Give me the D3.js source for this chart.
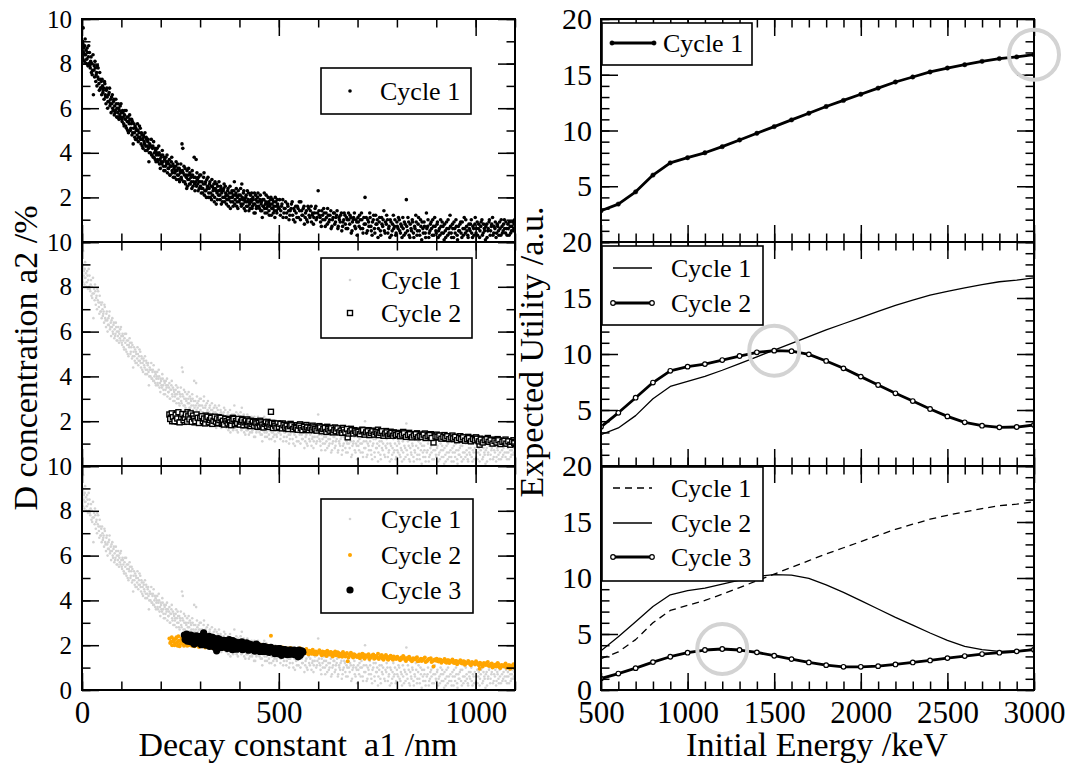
<!DOCTYPE html>
<html><head><meta charset="utf-8">
<script src="https://cdn.jsdelivr.net/npm/d3@7"></script>
<style>body{margin:0;background:#fff;} text{font-family:"Liberation Serif","Times New Roman",serif;}</style>
</head><body><svg id="chart" width="1071" height="764"></svg>
<script>
// ---------------- DATA ----------------
// Left column: scatter samples (a1 /nm, a2 /%)
const cycle1Points = [
[1,8.3],[2,8.9],[3,9.6],[4,8.5],[5,8.7],[6,8.1],[7,8.8],[9,8.4],[10,8.6],[12,8.2],[13,8.7],[15,7.9],[16,8.3],[18,8.0],[19,8.5],[21,7.8],[22,8.1],[24,7.6],[25,8.0],[27,7.7],[28,8.4],[29,6.6],[31,7.9],[32,7.4],[34,7.8],[35,7.2],[37,7.6],[38,7.0],[40,7.4],[41,7.8],[43,7.1],[44,6.8],[46,7.3],[47,6.9],[49,7.2],[50,6.6],
[52,7.0],[53,6.7],[55,6.9],[56,6.4],[58,7.1],[59,6.6],[61,6.2],[62,6.8],[64,6.5],[65,6.0],[67,6.6],[68,6.3],[70,6.9],[71,6.1],[73,6.4],[74,5.8],[76,6.2],[77,6.6],[79,5.9],[80,6.3],[82,5.7],[83,6.1],[85,5.9],[86,6.4],[88,5.6],[89,6.0],[91,5.8],[92,6.2],[94,5.5],[95,5.9],[97,6.1],[98,5.6],
[100,5.8],[102,5.4],[103,5.9],[105,5.6],[107,5.2],[108,5.7],[110,5.5],[112,5.9],[113,5.1],[115,5.4],[117,5.6],[118,4.9],[120,5.3],[122,5.5],[123,5.0],[125,5.3],[127,4.8],[128,5.4],[130,4.4],[131,5.1],[133,4.9],[135,5.2],[136,4.6],[138,5.0],[140,4.8],[141,5.3],[143,4.5],[145,4.9],[147,4.7],[148,5.1],[150,4.4],
[152,4.8],[154,4.6],[155,4.2],[157,4.7],[159,4.4],[160,4.9],[162,4.3],[164,4.6],[165,4.1],[167,4.5],[169,4.2],[170,3.6],[172,4.4],[174,4.0],[175,4.3],[177,3.9],[179,4.2],[181,3.8],[182,4.5],[184,4.0],[186,3.7],[187,4.1],[189,3.9],[191,4.2],[193,3.6],[194,3.9],[196,4.0],[198,3.7],[199,3.3],
[201,3.8],[203,3.5],[205,3.9],[206,3.6],[208,3.2],[210,3.7],[212,3.4],[213,3.8],[215,3.5],[217,3.1],[218,3.6],[220,3.3],[222,3.7],[224,3.0],[225,3.4],[227,3.6],[229,3.2],[231,3.5],[232,2.9],[234,3.3],[236,3.1],[238,3.4],[240,2.8],[241,3.2],[243,3.5],[245,3.0],[247,3.3],[248,2.7],[250,3.1],
[252,2.9],[254,4.4],[255,3.2],[256,4.2],[258,2.7],[260,3.0],[262,3.3],[263,2.6],[265,2.9],[267,3.2],[268,2.5],[270,3.0],[272,2.8],[274,3.1],[275,2.6],[277,2.9],[279,2.4],[281,3.0],[283,2.7],[285,3.8],[286,2.6],[288,2.9],[290,3.7],[291,2.5],[293,2.8],[295,2.3],[297,2.7],[299,3.0],
[301,2.5],[303,2.2],[305,2.7],[307,2.4],[309,2.9],[311,2.1],[313,2.6],[315,2.3],[317,2.8],[319,2.5],[321,2.0],[323,2.4],[325,2.7],[327,2.2],[329,1.9],[331,2.5],[333,2.3],[335,2.6],[337,2.0],[339,2.4],[341,1.7],[343,2.2],[345,2.5],[347,2.1],[349,2.3],
[351,1.9],[353,2.4],[355,2.2],[357,1.8],[359,2.3],[361,2.6],[363,2.0],[365,2.2],[367,1.7],[369,2.1],[371,2.4],[373,1.9],[375,2.2],[377,1.5],[379,2.0],[381,2.3],[383,1.8],[385,2.1],[387,2.7],[389,1.9],[391,2.2],[393,1.6],[395,2.0],[397,2.3],[399,1.8],
[402,2.1],[404,1.7],[406,2.6],[408,1.9],[410,2.2],[412,1.5],[414,1.8],[416,2.0],[418,1.6],[420,2.3],[422,1.9],[424,1.4],[426,1.7],[428,2.1],[430,1.8],[432,1.5],[434,2.0],[436,1.7],[438,2.2],[440,1.3],[442,1.9],[444,1.6],[446,2.0],[448,1.8],
[451,1.5],[453,2.1],[455,1.7],[457,1.4],[459,1.9],[461,1.6],[463,2.2],[465,1.3],[467,1.8],[469,1.5],[471,1.7],[473,2.0],[475,1.4],[477,1.6],[479,1.9],[481,1.2],[483,1.7],[485,1.5],[487,1.8],[489,1.4],[491,2.0],[493,1.6],[495,1.3],[497,1.7],[499,1.5],
[502,1.9],[505,1.4],[508,1.7],[511,1.1],[514,1.5],[517,1.8],[520,1.3],[523,1.6],[526,1.0],[529,1.4],[532,1.7],[535,1.2],[538,1.5],[541,0.9],[544,1.3],[547,1.6],[550,1.1],[553,1.4],[556,1.8],[559,1.2],[562,1.5],[565,0.8],[568,1.3],[571,1.0],[574,1.6],[577,1.2],[580,1.4],[583,0.9],[586,1.3],[589,1.1],[592,1.5],[595,1.0],[598,1.3],[600,2.3],
[603,1.2],[606,0.9],[609,1.4],[612,1.0],[615,1.3],[618,0.7],[621,1.1],[624,1.5],[627,0.9],[630,1.2],[633,0.6],[636,1.0],[639,1.3],[642,0.8],[645,1.1],[648,1.4],[651,0.7],[654,1.0],[657,1.2],[660,0.5],[663,0.9],[666,1.3],[669,0.8],[672,1.1],[675,0.6],[678,1.0],[681,1.2],[684,0.4],[687,0.9],[690,1.1],[693,0.7],[696,1.0],[699,0.3],
[702,0.9],[705,1.2],[708,0.6],[711,1.0],[714,0.4],[717,0.8],[719,2.0],[722,1.1],[725,0.5],[728,0.9],[731,1.3],[734,0.7],[737,0.3],[740,1.0],[743,0.6],[746,1.2],[749,0.8],[752,0.2],[755,0.9],[758,0.5],[761,1.1],[764,0.7],[767,1.4],[770,0.4],[773,0.8],[776,1.0],[779,0.6],[782,0.2],[785,0.9],[788,0.5],[791,1.2],[794,0.7],[797,0.3],[800,0.9],
[803,0.6],[806,1.0],[809,0.4],[812,0.7],[815,1.1],[818,0.3],[821,0.8],[824,1.9],[827,0.5],[830,0.9],[833,0.2],[836,0.6],[839,1.0],[842,0.4],[845,0.7],[848,1.2],[851,0.3],[854,0.8],[857,0.5],[860,1.0],[863,0.1],[866,0.6],[869,0.9],[872,0.4],[875,1.3],[878,0.7],[881,0.2],[884,0.5],[887,0.9],[890,0.3],[893,0.7],[896,1.1],[899,0.5],
[902,0.8],[905,0.2],[908,0.6],[911,1.0],[914,0.4],[917,0.7],[920,0.1],[923,0.5],[926,0.9],[929,0.3],[932,0.6],[935,1.2],[938,0.4],[941,0.8],[944,0.2],[947,0.6],[950,1.0],[953,0.3],[956,0.7],[959,0.5],[962,0.9],[965,0.2],[968,0.6],[971,1.1],[974,0.4],[977,0.7],[980,0.3],[983,0.8],[986,0.5],[989,1.0],[992,0.2],[995,0.6],[998,0.8],
[1001,0.4],[1004,0.9],[1007,0.6],[1010,0.2],[1013,0.7],[1016,1.0],[1019,0.4],[1022,0.6],[1025,0.1],[1028,0.8],[1031,0.5],[1034,0.9],[1037,0.3],[1040,0.7],[1043,1.1],[1046,0.4],[1049,0.6],[1052,0.2],[1055,0.8],[1058,0.5],[1061,0.9],[1064,0.3],[1067,0.7],[1070,0.5],[1073,1.0],[1076,0.4],[1079,0.6],[1082,0.8],[1085,0.3],[1088,0.7],[1091,0.5],[1094,0.9],[1097,0.6],[1099,1.0],
[0.5,8.6],[1.5,9.0],[2.5,8.2],[3.5,8.8],[6.5,8.4],[8,9.1],[11,8.0],[14,8.5],[17,8.8],[20,7.9],[23,8.3],[26,7.5],[30,7.7],[33,8.1],[36,7.5],[39,7.9],[42,7.3],[45,7.6],[48,6.9],[51,7.3],[54,6.8],[57,7.2],[60,6.5],[63,6.9],[66,6.3],[69,6.7],[72,6.2],[75,6.5],[78,6.0],[81,6.4],[84,5.8],[87,6.2],[90,5.6],[93,6.0],[96,5.7],[99,6.2],
[101,5.5],[104,5.8],[106,5.3],[109,5.9],[111,5.2],[114,5.6],[116,5.0],[119,5.4],[121,5.7],[124,5.1],[126,5.5],[129,4.9],[132,5.3],[134,4.7],[137,5.1],[139,4.6],[142,5.0],[144,4.7],[146,5.2],[149,4.6],[151,4.9],[153,4.3],[156,4.8],[158,4.5],[161,4.1],[163,4.7],[166,4.3],[168,4.6],[171,4.0],[173,4.3],[176,4.6],[178,3.9],[180,4.3],[183,3.8],[185,4.2],[188,3.6],[190,4.0],[192,3.7],[195,4.3],[197,3.5],
[200,3.9],[202,3.6],[204,4.1],[207,3.4],[209,3.8],[211,3.2],[214,3.6],[216,3.9],[219,3.3],[221,3.5],[223,3.0],[226,3.4],[228,3.8],[230,3.1],[233,3.4],[235,2.9],[237,3.2],[239,3.6],[242,3.0],[244,3.3],[246,2.8],[249,3.2],[251,3.5],[253,2.8],[257,3.1],[259,3.4],[261,2.7],[264,3.0],[266,2.4],[269,2.8],[271,3.3],[273,2.6],[276,3.0],[278,2.7],[280,3.2],[282,2.5],[284,2.9],[287,2.3],[289,2.7],[292,3.1],[294,2.6],[296,2.9],[298,2.4],
[300,2.7],[302,3.0],[304,2.4],[306,2.2],[308,2.6],[310,3.1],[312,2.3],[314,2.7],[316,2.0],[318,2.4],[320,2.9],[322,2.2],[324,2.6],[326,2.0],[328,2.5],[330,2.8],[332,2.1],[334,2.4],[336,1.8],[338,2.7],[340,2.3],[342,2.6],[344,1.9],[346,2.3],[348,2.7],[350,2.1],[352,2.5],[354,1.7],[356,2.3],[358,2.0],[360,2.4],[362,1.8],[364,2.5],[366,2.1],[368,1.9],[370,2.3],[372,1.6],[374,2.0],[376,2.5],[378,1.8],[380,2.2],[382,2.0],[384,1.6],[386,2.3],[388,1.7],[390,2.1],[392,2.4],[394,1.8],[396,1.5],[398,2.1],
[401,1.9],[403,2.4],[405,1.6],[407,2.0],[409,1.7],[411,2.3],[413,1.9],[415,1.4],[417,2.1],[419,1.8],[421,1.6],[423,2.2],[425,1.8],[427,1.5],[429,1.9],[431,2.2],[433,1.6],[435,1.9],[437,1.3],[439,1.7],[441,2.1],[443,1.5],[445,1.8],[447,2.2],[449,1.6],[452,1.9],[454,1.4],[456,1.8],[458,1.1],[460,1.6],[462,1.9],[464,1.5],[466,1.7],[468,2.1],[470,1.3],[472,1.6],[474,1.8],[476,1.2],[478,1.7],[480,2.0],[482,1.5],[484,1.9],[486,1.3],[488,1.6],[490,1.1],[492,1.8],[494,1.4],[496,1.9],[498,1.6],
[501,1.5],[504,1.2],[507,1.6],[510,1.9],[513,1.3],[516,1.5],[519,1.1],[522,1.7],[525,1.4],[528,1.2],[531,1.5],[534,1.8],[537,1.0],[540,1.4],[543,1.6],[546,1.1],[549,1.5],[552,1.8],[555,1.0],[558,1.4],[561,1.2],[564,1.6],[567,1.1],[570,1.4],[573,0.9],[576,1.5],[579,1.1],[582,1.6],[585,1.2],[588,0.8],[591,1.3],[594,1.6],[597,1.1],
[602,1.4],[605,1.1],[608,0.7],[611,1.2],[614,1.5],[617,1.0],[620,1.3],[623,0.8],[626,1.2],[629,1.0],[632,1.4],[635,0.7],[638,1.1],[641,1.3],[644,0.9],[647,1.2],[650,0.6],[653,1.1],[656,0.9],[659,1.3],[662,0.7],[665,1.0],[668,1.2],[671,0.6],[674,1.0],[677,1.3],[680,0.8],[683,1.1],[686,0.5],[689,1.0],[692,1.3],[695,0.6],[698,0.9],
[701,1.1],[704,0.7],[707,1.0],[710,1.3],[713,0.6],[716,1.1],[720,0.8],[723,0.4],[726,1.0],[729,0.7],[732,1.1],[735,0.5],[738,0.9],[741,1.2],[744,0.4],[747,0.8],[750,1.0],[753,0.6],[756,1.1],[759,0.3],[762,0.8],[765,1.0],[768,0.5],[771,0.9],[774,1.2],[777,0.4],[780,0.7],[783,1.0],[786,0.3],[789,0.8],[792,0.6],[795,1.0],[798,0.4],
[801,0.7],[804,1.1],[807,0.5],[810,0.8],[813,0.2],[816,0.6],[819,0.9],[822,0.4],[825,0.7],[828,1.1],[831,0.3],[834,0.8],[837,0.5],[840,0.9],[843,0.2],[846,0.6],[849,0.9],[852,0.5],[855,1.1],[858,0.3],[861,0.7],[864,0.9],[867,0.4],[870,0.7],[873,0.2],[876,0.6],[879,1.0],[882,0.4],[885,0.8],[888,0.6],[891,1.0],[894,0.3],[897,0.7],
[900,0.4],[903,0.9],[906,0.5],[909,0.3],[912,0.7],[915,0.9],[918,0.4],[921,0.8],[924,0.2],[927,0.6],[930,1.0],[933,0.4],[936,0.7],[939,0.2],[942,0.6],[945,0.9],[948,0.4],[951,0.7],[954,0.1],[957,0.5],[960,0.8],[963,0.4],[966,0.9],[969,0.3],[972,0.6],[975,1.0],[978,0.5],[981,0.2],[984,0.6],[987,0.8],[990,0.4],[993,0.7],[996,0.3],[999,1.1],
[1002,0.6],[1005,0.3],[1008,0.8],[1011,0.5],[1014,0.9],[1017,0.3],[1020,0.8],[1023,0.5],[1026,0.7],[1029,0.2],[1032,0.6],[1035,1.0],[1038,0.5],[1041,0.8],[1044,0.3],[1047,0.7],[1050,0.9],[1053,0.4],[1056,0.7],[1059,0.3],[1062,0.6],[1065,1.0],[1068,0.4],[1071,0.8],[1074,0.6],[1077,0.9],[1080,0.3],[1083,0.6],[1086,0.9],[1089,0.4],[1092,0.7],[1095,0.5],[1098,0.8]
];
const cycle2Points = [
[222,2.3],[226,2.15],[229,2.0],[233,2.25],[236,2.1],[240,2.35],[243,1.98],[246,2.2],[250,2.05],[253,2.3],[256,2.12],[259,1.97],[262,2.22],[265,2.08],[268,2.4],[271,2.0],[274,2.18],[277,2.28],[280,2.05],[283,2.15],[286,1.95],[289,2.25],[292,2.1],[295,2.02],[298,2.2],
[302,2.08],[305,1.97],[308,2.18],[311,2.05],[314,2.25],[317,1.93],[320,2.12],[323,2.02],[326,2.2],[329,1.95],[332,2.1],[335,2.0],[338,2.15],[341,1.9],[344,2.05],[347,2.18],[350,1.97],[353,2.08],[356,1.88],[359,2.12],[362,2.0],[365,1.93],[368,2.1],[371,1.98],[374,1.85],[377,2.07],[380,1.95],[383,2.15],[386,1.9],[389,2.02],[392,1.96],[395,1.86],[398,2.05],
[402,1.95],[405,2.1],[408,1.88],[411,2.0],[414,1.83],[417,1.97],[420,2.08],[423,1.9],[426,1.8],[429,2.02],[432,1.92],[435,1.85],[438,2.0],[441,1.88],[444,1.78],[447,1.95],[450,1.85],[453,2.02],[456,1.82],[459,1.92],[462,1.75],[465,1.9],[468,1.83],[471,1.97],[474,1.8],[477,1.88],[480,2.42],[483,1.78],[486,1.92],[489,1.84],[492,1.72],[495,1.88],[498,1.8],
[502,1.85],[506,1.72],[510,1.9],[514,1.78],[518,1.68],[522,1.85],[526,1.75],[530,1.88],[534,1.7],[538,1.8],[542,1.65],[546,1.82],[550,1.73],[554,1.86],[558,1.67],[562,1.78],[566,1.7],[570,1.83],[574,1.62],[578,1.75],[582,1.68],[586,1.8],[590,1.6],[594,1.72],[598,1.66],
[603,1.78],[607,1.62],[611,1.72],[615,1.58],[619,1.68],[623,1.75],[627,1.6],[631,1.7],[635,1.55],[639,1.65],[643,1.72],[647,1.58],[651,1.66],[655,1.52],[659,1.63],[663,1.7],[667,1.55],[671,1.6],[675,1.28],[679,1.57],[683,1.66],[687,1.5],[691,1.6],[695,1.53],[699,1.47],
[704,1.58],[708,1.5],[712,1.62],[716,1.45],[720,1.55],[724,1.48],[728,1.6],[732,1.43],[736,1.52],[740,1.58],[744,1.42],[748,1.5],[752,1.62],[756,1.45],[760,1.55],[764,1.4],[768,1.48],[772,1.56],[776,1.38],[780,1.47],[784,1.53],[788,1.4],[792,1.5],[796,1.43],
[801,1.48],[806,1.38],[811,1.45],[816,1.52],[821,1.35],[826,1.43],[831,1.48],[836,1.33],[841,1.42],[846,1.37],[851,1.46],[856,1.3],[861,1.4],[866,1.34],[871,1.45],[876,1.28],[881,1.38],[886,1.42],[891,1.3],[893,1.05],[896,1.36],
[901,1.4],[906,1.27],[911,1.35],[916,1.3],[921,1.38],[926,1.22],[931,1.33],[936,1.28],[941,1.36],[946,1.2],[951,1.3],[956,1.25],[961,1.33],[966,1.18],[971,1.27],[976,1.22],[981,1.3],[986,1.15],[991,1.25],[996,1.2],
[1001,1.28],[1006,1.15],[1010,0.95],[1011,1.22],[1016,1.1],[1021,1.2],[1026,1.12],[1031,1.25],[1036,1.08],[1041,1.18],[1046,1.05],[1051,1.14],[1056,1.2],[1061,1.02],[1066,1.12],[1071,1.06],[1076,1.18],[1081,1.0],[1086,1.1],[1091,1.04],[1096,1.15],[1099,0.98],
[224,2.1],[228,2.35],[231,2.18],[235,2.0],[238,2.28],[242,2.12],[245,2.4],[248,1.95],[252,2.18],[255,2.32],[258,2.05],[261,2.15],[264,2.3],[267,1.98],[270,2.22],[273,2.08],[276,2.35],[279,1.97],[282,2.25],[285,2.12],[288,2.0],[291,2.3],[294,2.15],[297,1.92],[300,2.15],
[304,2.22],[307,2.0],[310,2.12],[313,1.9],[316,2.08],[319,2.2],[322,1.95],[325,2.05],[328,2.15],[331,1.88],[334,2.02],[337,2.2],[340,1.98],[343,2.12],[346,1.92],[349,2.05],[352,2.15],[355,1.95],[358,2.02],[361,1.85],[364,2.1],[367,2.0],[370,1.9],[373,2.05],[376,1.95],[379,1.82],[382,2.02],[385,2.1],[388,1.88],[391,2.0],[394,1.92],[397,2.1],
[401,1.85],[404,1.98],[407,2.05],[410,1.82],[413,1.95],[416,2.02],[419,1.85],[422,1.95],[425,2.0],[428,1.78],[431,1.88],[434,1.97],[437,1.8],[440,1.95],[443,1.9],[446,1.75],[449,1.92],[452,1.8],[455,1.95],[458,1.85],[461,1.72],[464,1.88],[467,1.95],[470,1.78],[473,1.9],[476,1.75],[479,1.85],[482,1.92],[485,1.7],[488,1.88],[491,1.8],[494,1.7],[497,1.9],
[500,1.75],[504,1.88],[508,1.68],[512,1.82],[516,1.72],[520,1.8],[524,1.65],[528,1.78],[532,1.82],[536,1.65],[540,1.75],[544,1.7],[548,1.62],[552,1.8],[556,1.7],[560,1.6],[564,1.75],[568,1.65],[572,1.72],[576,1.6],[580,1.7],[584,1.62],[588,1.72],[592,1.65],[596,1.58],
[601,1.68],[605,1.72],[609,1.55],[613,1.65],[617,1.7],[621,1.52],[625,1.65],[629,1.58],[633,1.68],[637,1.5],[641,1.6],[645,1.55],[649,1.68],[653,1.5],[657,1.58],[661,1.48],[665,1.62],[669,1.5],[673,1.65],[677,1.45],[681,1.55],[685,1.6],[689,1.45],[693,1.57],[697,1.5],
[702,1.52],[706,1.42],[710,1.55],[714,1.6],[718,1.4],[722,1.5],[726,1.55],[730,1.38],[734,1.47],[738,1.55],[742,1.4],[746,1.52],[750,1.45],[754,1.38],[758,1.48],[762,1.55],[766,1.35],[770,1.45],[774,1.5],[778,1.35],[782,1.42],[786,1.48],[790,1.35],[794,1.45],[798,1.38],
[803,1.42],[808,1.33],[813,1.4],[818,1.46],[823,1.3],[828,1.38],[833,1.42],[838,1.28],[843,1.36],[848,1.42],[853,1.28],[858,1.35],[863,1.3],[868,1.4],[873,1.25],[878,1.33],[883,1.38],[888,1.25],[898,1.32],
[903,1.3],[908,1.36],[913,1.22],[918,1.3],[923,1.25],[928,1.33],[933,1.2],[938,1.27],[943,1.23],[948,1.3],[953,1.15],[958,1.25],[963,1.2],[968,1.28],[973,1.13],[978,1.2],[983,1.25],[988,1.1],[993,1.2],[998,1.15],
[1003,1.22],[1008,1.1],[1013,1.18],[1018,1.05],[1023,1.15],[1028,1.2],[1033,1.08],[1038,1.15],[1043,1.0],[1048,1.12],[1053,1.05],[1058,1.15],[1063,0.98],[1068,1.08],[1073,1.12],[1078,1.0],[1083,1.1],[1088,0.95],[1093,1.08],[1098,1.02]
];
const cycle3Points = [
[260,2.45],[262,2.25],[265,2.35],[268,2.18],[270,2.4],[273,2.28],[274,2.4],[276,2.15],[279,2.35],[282,2.22],[285,2.05],[287,2.12],[288,2.3],[291,2.18],[294,2.4],[297,2.1],[299,2.35],[300,2.25],[303,2.02],[306,2.15],[309,2.55],[311,2.08],[312,2.22],[315,2.0],[318,2.12],[321,2.3],[322,2.15],[324,1.95],[327,2.18],[330,2.08],[333,2.25],[334,2.05],[336,1.92],[339,2.1],[342,1.75],[345,2.2],[346,2.3],[348,2.0],[351,2.12],[354,1.9],[357,2.05],[358,1.98],[360,2.22],[363,1.95],[366,2.08],[369,1.85],[371,2.0],[372,2.15],[375,1.98],[378,2.05],[381,1.88],[383,2.2],[384,2.1],[387,1.95],[390,2.02],[393,1.82],[395,1.9],[396,1.98],[399,2.12],[402,1.9],[405,2.0],[407,2.1],[408,1.8],[411,1.95],[414,2.06],[417,1.85],[419,1.88],[420,1.97],[423,1.78],[426,1.92],[429,2.02],[431,1.95],[432,1.83],[435,1.9],[438,1.75],[441,1.95],[443,2.05],[444,1.85],[447,1.98],[450,1.78],[453,1.88],[455,1.85],[456,1.72],[459,1.9],[462,1.8],[465,1.93],[467,1.88],[468,1.75],[471,1.85],[474,1.7],[477,1.82],[479,1.78],[480,1.9],[483,1.72],[486,1.8],[489,1.68],[491,1.72],[492,1.85],[495,1.75],[498,1.62],[501,1.8],[503,1.85],[504,1.7],[507,1.55],[510,1.78],[513,1.68],[515,1.72],[516,1.8],[519,1.65],[522,1.75],[525,1.6],[527,1.68],[528,1.72],[531,1.78],[534,1.63],[537,1.7],[540,1.58],[543,1.72],[546,1.65],[549,1.48],[552,1.7],[555,1.6],[558,1.75],[561,1.68],
[263,2.3],[266,2.5],[269,2.2],[272,2.35],[277,2.45],[280,2.3],[283,2.4],[286,2.25],[290,2.42],[293,2.2],[296,2.3],[301,2.4],[304,2.2],[307,2.32],[310,2.15],[313,2.35],[316,2.25],[319,2.05],[323,2.4],[326,2.28],[329,2.1],[332,2.35],[335,2.15],[338,2.28],[341,2.05],[344,2.1],[347,1.88],[350,2.25],[353,2.05],[356,2.18],[359,1.92],[362,2.1],[365,2.2],[368,1.95],[370,2.12],[374,2.25],[377,1.9],[380,2.15],[382,1.8],[386,2.05],[389,2.15],[392,1.9],[394,2.08],[398,1.85],[401,2.05],[404,1.85],[406,2.15],[410,2.02],[413,1.85],[416,1.95],[418,2.1],[422,1.88],[425,2.05],[428,1.82],[430,1.98],[434,2.0],[437,1.88],[440,1.75],[442,1.9],[446,1.82],[449,1.95],[452,1.72],[454,1.92],[458,1.8],[461,1.95],[464,1.72],[466,1.82],[470,1.9],[473,1.78],[476,1.68],[478,1.88],[482,1.8],[485,1.72],[488,1.82],[490,1.62],[494,1.78],[497,1.7],[500,1.85],[502,1.62],[506,1.75],[509,1.68],[512,1.8],[514,1.62],[518,1.72],[521,1.58],[524,1.7],[526,1.78],[530,1.6],[533,1.72],[536,1.65],[539,1.78],[542,1.6],[545,1.72],[548,1.62],[551,1.78],[554,1.55],[557,1.68],[560,1.72]
];
// Right column: expected utility vs initial energy
const energies = [500,600,700,800,900,1000,1100,1200,1300,1400,1500,1600,1700,1800,1900,2000,2100,2200,2300,2400,2500,2600,2700,2800,2900,3000];
const utilCycle1 = [2.8,3.4,4.5,6.0,7.1,7.56,8.0,8.55,9.15,9.75,10.35,10.95,11.55,12.15,12.7,13.25,13.8,14.35,14.8,15.25,15.6,15.9,16.2,16.45,16.6,16.8];
const utilCycle2 = [3.5,4.75,6.1,7.45,8.5,8.87,9.1,9.46,9.82,10.15,10.3,10.25,9.97,9.38,8.72,7.98,7.23,6.49,5.8,5.09,4.43,3.9,3.6,3.45,3.48,3.66];
const utilCycle3 = [1.02,1.47,1.95,2.49,2.97,3.33,3.57,3.66,3.57,3.36,3.06,2.76,2.46,2.22,2.07,2.07,2.13,2.28,2.46,2.64,2.85,3.03,3.21,3.33,3.45,3.6];
// optimum markers (grey circles): energy and utility per cycle
const optimaEnergy = [3000,1500,1200];
const optimaUtil = [16.8,10.3,3.66];
// ticks
const leftXMajor = [0,500,1000];
const leftXMinor = [0,100,200,300,400,500,600,700,800,900,1000,1100];
const leftYLabels = [[2,4,6,8,10],[2,4,6,8,10],[0,2,4,6,8,10]];
const leftYMajor = [0,2,4,6,8,10];
const leftYMinor = [0,1,2,3,4,5,6,7,8,9,10];
const rightXMajor = [500,1000,1500,2000,2500,3000];
const rightXMinor = [500,600,700,800,900,1000,1100,1200,1300,1400,1500,1600,1700,1800,1900,2000,2100,2200,2300,2400,2500,2600,2700,2800,2900,3000];
const rightYLabels = [[5,10,15,20],[5,10,15,20],[0,5,10,15,20]];
const rightYMajor = [0,5,10,15,20];
const rightYMinor = [0,1,2,3,4,5,6,7,8,9,10,11,12,13,14,15,16,17,18,19,20];
const legendLabels = ["Cycle 1","Cycle 2","Cycle 3"];

// ---------------- DRAWING ----------------
const FONT = '"Liberation Serif","Times New Roman",serif';
const svg = d3.select("#chart");
svg.append("rect").attr("width",1071).attr("height",764).attr("fill","#fff");
const rows = [{top:19,bottom:242},{top:242,bottom:466},{top:466,bottom:690}];
const leftX = d3.scaleLinear().domain([0,1100]).range([82,515]);
const rightX = d3.scaleLinear().domain([500,3000]).range([601,1034]);
const MAJ = 17, MIN = 8.5;
const GREY = "#d3d3d3", ORANGE = "#ffa500";

function styleAxis(ag, fs){
  ag.select(".domain").remove();
  ag.selectAll("line").attr("stroke","#000").attr("stroke-width",1.5);
  ag.selectAll("text").attr("font-size",fs).attr("font-family",FONT).attr("fill","#000");
}
function drawAxes(g, x, y, xMaj, xMin, yMaj, yMin, yLab, showX, yFs, yPad){
  const [x0,x1] = x.range(); const [yb,yt] = y.range();
  const fmt = d3.format("d");
  styleAxis(g.append("g").attr("transform",`translate(0,${yb})`).call(d3.axisBottom(x).tickValues(xMin).tickSize(-MIN).tickFormat("")));
  styleAxis(g.append("g").attr("transform",`translate(0,${yb})`).call(d3.axisBottom(x).tickValues(xMaj).tickSize(-MAJ).tickPadding(11).tickFormat(showX?fmt:"")),31);
  styleAxis(g.append("g").attr("transform",`translate(0,${yt})`).call(d3.axisTop(x).tickValues(xMin).tickSize(-MIN).tickFormat("")));
  styleAxis(g.append("g").attr("transform",`translate(0,${yt})`).call(d3.axisTop(x).tickValues(xMaj).tickSize(-MAJ).tickFormat("")));
  styleAxis(g.append("g").attr("transform",`translate(${x0},0)`).call(d3.axisLeft(y).tickValues(yMin).tickSize(-MIN).tickFormat("")));
  styleAxis(g.append("g").attr("transform",`translate(${x0},0)`).call(d3.axisLeft(y).tickValues(yMaj).tickSize(-MAJ).tickFormat("")));
  styleAxis(g.append("g").attr("transform",`translate(${x0},0)`).call(d3.axisLeft(y).tickValues(yLab).tickSize(0).tickPadding(yPad).tickFormat(fmt)), yFs);
  styleAxis(g.append("g").attr("transform",`translate(${x1},0)`).call(d3.axisRight(y).tickValues(yMin).tickSize(-MIN).tickFormat("")));
  styleAxis(g.append("g").attr("transform",`translate(${x1},0)`).call(d3.axisRight(y).tickValues(yMaj).tickSize(-MAJ).tickFormat("")));
  g.append("rect").attr("x",x0).attr("y",yt).attr("width",x1-x0).attr("height",yb-yt)
    .attr("fill","none").attr("stroke","#000").attr("stroke-width",2);
}
function clip(id, x, y){
  const [x0,x1]=x.range(); const [yb,yt]=y.range();
  svg.append("clipPath").attr("id",id).append("rect").attr("x",x0).attr("y",yt).attr("width",x1-x0).attr("height",yb-yt);
}
function scatter(g, pts, x, y, kind){
  if(kind==="square"){
    g.selectAll(null).data(pts).enter().append("rect")
      .attr("x",d=>x(d[0])-2.5).attr("y",d=>y(d[1])-2.5).attr("width",5).attr("height",5)
      .attr("fill","#fff").attr("stroke","#000").attr("stroke-width",1.4);
    return;
  }
  const st = {dot:{r:1.8,c:"#000"},grey:{r:1.3,c:GREY},orange:{r:2,c:ORANGE},big:{r:3.6,c:"#000"}}[kind];
  g.selectAll(null).data(pts).enter().append("circle")
    .attr("cx",d=>x(d[0])).attr("cy",d=>y(d[1])).attr("r",st.r).attr("fill",st.c);
}
function legendBox(g, x, y, w, h){
  g.append("rect").attr("x",x).attr("y",y).attr("width",w).attr("height",h)
    .attr("fill","#fff").attr("stroke","#000").attr("stroke-width",1.6);
}
function legendText(g, x, y, t){
  g.append("text").attr("x",x).attr("y",y+8.6).attr("font-size",26).attr("font-family",FONT).text(t);
}
function scatterMarker(g, x, y, kind){ scatter(g, [[0,0]], ()=>x, ()=>y, kind); }

// ---- left column ----
const leftSets = [
  [["dot",cycle1Points]],
  [["grey",cycle1Points],["square",cycle2Points]],
  [["grey",cycle1Points],["orange",cycle2Points],["big",cycle3Points]]
];
rows.forEach((r,i)=>{
  const y = d3.scaleLinear().domain([0,10]).range([r.bottom,r.top]);
  const g = svg.append("g");
  clip("cl"+i, leftX, y);
  const dg = g.append("g").attr("clip-path",`url(#cl${i})`);
  leftSets[i].forEach(([kind,pts])=>scatter(dg, pts, leftX, y, kind));
  drawAxes(g, leftX, y, leftXMajor, leftXMinor, leftYMajor, leftYMinor, leftYLabels[i], i===2, 25, 10);
});
(function(){
  let g = svg.append("g");
  legendBox(g,321,68,150,46); scatterMarker(g,350,91,"dot"); legendText(g,380,91,legendLabels[0]);
  g = svg.append("g");
  legendBox(g,321,258,151,80); scatterMarker(g,350,280,"grey"); legendText(g,381,280,legendLabels[0]);
  scatterMarker(g,350,313,"square"); legendText(g,381,313,legendLabels[1]);
  g = svg.append("g");
  legendBox(g,321,499,152,114); scatterMarker(g,350,519,"grey"); legendText(g,381,519,legendLabels[0]);
  scatterMarker(g,350,555,"orange"); legendText(g,381,555,legendLabels[1]);
  scatterMarker(g,350,590,"big"); legendText(g,381,590,legendLabels[2]);
})();

// ---- right column ----
const styles = {
  thickDot:{w:2.8,dash:null,marker:"filled"},
  thickOpen:{w:2.8,dash:null,marker:"open"},
  thin:{w:1.3,dash:null,marker:null},
  dashed:{w:1.3,dash:"7,5",marker:null}
};
const rightSets = [
  [[utilCycle1,"thickDot"]],
  [[utilCycle1,"thin"],[utilCycle2,"thickOpen"]],
  [[utilCycle1,"dashed"],[utilCycle2,"thin"],[utilCycle3,"thickOpen"]]
];
function drawMarkers(g, pts, kind){
  g.selectAll(null).data(pts).enter().append("circle")
    .attr("cx",d=>d[0]).attr("cy",d=>d[1]).attr("r",kind==="filled"?2.2:2.3)
    .attr("fill",kind==="filled"?"#000":"#fff").attr("stroke","#000").attr("stroke-width",kind==="filled"?0.5:1.2);
}
rows.forEach((r,i)=>{
  const y = d3.scaleLinear().domain([0,20]).range([r.bottom,r.top]);
  const g = svg.append("g");
  clip("cr"+i, rightX, y);
  const dg = g.append("g").attr("clip-path",`url(#cr${i})`);
  rightSets[i].forEach(([vals,sk])=>{
    const s = styles[sk];
    const line = d3.line().x((d,j)=>rightX(energies[j])).y(d=>y(d));
    const p = dg.append("path").attr("d",line(vals)).attr("fill","none").attr("stroke","#000")
      .attr("stroke-width",s.w).attr("stroke-linejoin","round");
    if(s.dash) p.attr("stroke-dasharray",s.dash);
    if(s.marker) drawMarkers(dg, vals.map((v,j)=>[rightX(energies[j]),y(v)]), s.marker);
  });
  drawAxes(g, rightX, y, rightXMajor, rightXMinor, rightYMajor, rightYMinor, rightYLabels[i], i===2, 30, 9);
  svg.append("circle").attr("cx",rightX(optimaEnergy[i])).attr("cy",y(optimaUtil[i])).attr("r",25)
    .attr("fill","none").attr("stroke",GREY).attr("stroke-width",4);
});
function lineSample(g, x0, x1, yy, sk){
  const s = styles[sk];
  const l = g.append("line").attr("x1",x0).attr("x2",x1).attr("y1",yy).attr("y2",yy)
    .attr("stroke","#000").attr("stroke-width",s.w);
  if(s.dash) l.attr("stroke-dasharray",s.dash);
  if(s.marker) drawMarkers(g, [[x0,yy],[x1,yy]], s.marker);
}
(function(){
  let g = svg.append("g");
  legendBox(g,602,23,150,42); lineSample(g,612,654,43,"thickDot"); legendText(g,663,43,legendLabels[0]);
  g = svg.append("g");
  legendBox(g,602,246,161,79); lineSample(g,613,652,268,"thin"); legendText(g,671,268,legendLabels[0]);
  lineSample(g,613,652,303,"thickOpen"); legendText(g,671,303,legendLabels[1]);
  g = svg.append("g");
  legendBox(g,602,467,161,114); lineSample(g,613,652,488,"dashed"); legendText(g,671,488,legendLabels[0]);
  lineSample(g,613,652,523,"thin"); legendText(g,671,523,legendLabels[1]);
  lineSample(g,613,652,557,"thickOpen"); legendText(g,671,557,legendLabels[2]);
})();

// ---- axis titles ----
svg.append("text").attr("x",298).attr("y",756).attr("text-anchor","middle").attr("font-size",34)
  .attr("font-family",FONT).style("white-space","pre").text("Decay constant  a1 /nm");
svg.append("text").attr("x",817).attr("y",756).attr("text-anchor","middle").attr("font-size",34)
  .attr("font-family",FONT).text("Initial Energy /keV");
svg.append("text").attr("transform","translate(37,358) rotate(-90)").attr("text-anchor","middle").attr("font-size",34)
  .attr("font-family",FONT).text("D concentration a2 /%");
svg.append("text").attr("transform","translate(543,352) rotate(-90)").attr("text-anchor","middle").attr("font-size",34)
  .attr("font-family",FONT).text("Expected Utility /a.u.");
</script></body></html>
